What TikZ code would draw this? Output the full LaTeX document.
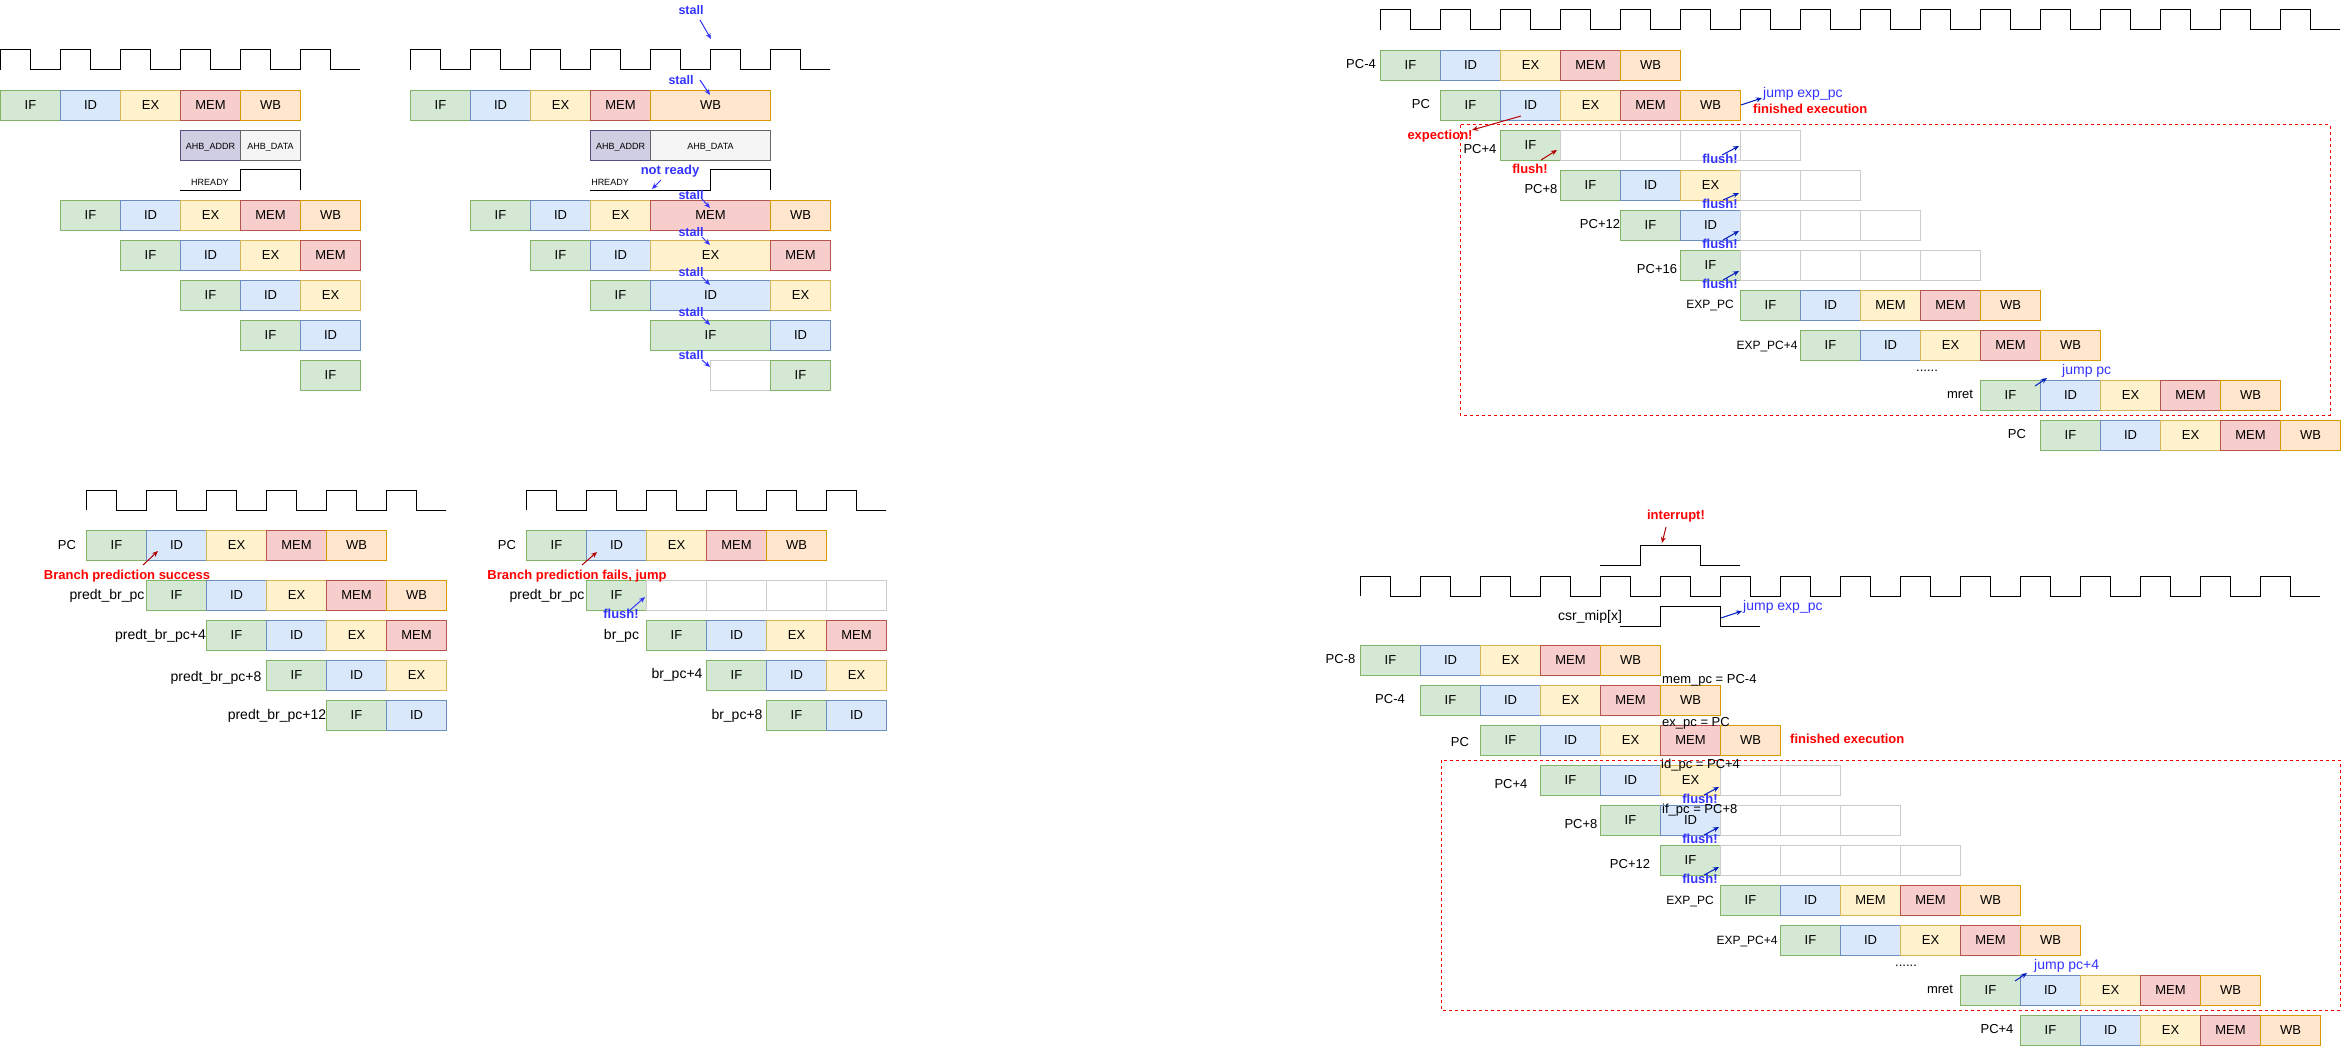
\documentclass[tikz,border=0pt]{standalone}
\usepackage{fontspec}
\setmainfont{Liberation Sans}
\usetikzlibrary{arrows.meta}

\definecolor{ifF}{HTML}{D5E8D4}\definecolor{ifD}{HTML}{82B366}
\definecolor{idF}{HTML}{DAE8FC}\definecolor{idD}{HTML}{6C8EBF}
\definecolor{exF}{HTML}{FFF2CC}\definecolor{exD}{HTML}{D6B656}
\definecolor{meF}{HTML}{F8CECC}\definecolor{meD}{HTML}{B85450}
\definecolor{wbF}{HTML}{FFE6CC}\definecolor{wbD}{HTML}{D79B00}
\definecolor{adF}{HTML}{D0CEE2}\definecolor{adD}{HTML}{56517E}
\definecolor{daF}{HTML}{F5F5F5}\definecolor{daD}{HTML}{666666}
\definecolor{emD}{HTML}{CCCCCC}
\definecolor{noteblue}{HTML}{3333FF}
\definecolor{arrblue}{HTML}{001DBC}
\definecolor{notered}{HTML}{FF0000}
\definecolor{arrred}{HTML}{B20000}

\newcommand\fsz[1]{\fontsize{#1}{#1}\selectfont}
% one pipeline row: name, left x, top y, list of style/text cells
\newcommand\pipe[4]{\foreach \s/\t [count=\i from 0] in {#4}{\node[\s] (#1-\i) at ({#2+60*\i},#3) {\t};}}
% clock: left x, low y, number of periods
\newcommand\clock[3]{\draw[clk] (#1,#2) \foreach \k in {1,...,#3}{ -- ++(0,-20) -- ++(30,0) -- ++(0,20) -- ++(30,0)};}

\begin{document}
\begin{tikzpicture}[x=1pt,y=-1pt,
  stg/.style={draw, line width=1pt, minimum width=60pt, minimum height=30pt, inner sep=0pt,
    anchor=north west, text height=0.716em, text depth=0pt, font=\fsz{13}},
  sIF/.style={stg, fill=ifF, draw=ifD},
  sID/.style={stg, fill=idF, draw=idD},
  sEX/.style={stg, fill=exF, draw=exD},
  sMEM/.style={stg, fill=meF, draw=meD},
  sWB/.style={stg, fill=wbF, draw=wbD},
  sE/.style={stg, fill=white, draw=emD},
  sAD/.style={stg, fill=adF, draw=adD, font=\fsz{9}},
  sDA/.style={stg, fill=daF, draw=daD, font=\fsz{9}},
  clk/.style={draw=black, line width=1pt},
  lbl/.style={inner sep=0pt, text height=0.716em, text depth=0pt, font=\fsz{13}},
  lbig/.style={lbl, font=\fsz{14}},
  lsm/.style={lbl, font=\fsz{12}},
  ltiny/.style={lbl, font=\fsz{9}},
  bnote/.style={lbl, text=noteblue, font=\fsz{13}\bfseries},
  snote/.style={lbl, text=noteblue, font=\fsz{12.5}\bfseries},
  rnote/.style={lbl, text=notered, font=\fsz{13}\bfseries},
  jnote/.style={lbl, text=noteblue, font=\fsz{14}, anchor=west},
  bArr/.style={draw=noteblue, line width=1pt, -{Stealth[length=6pt,width=5pt]}},
  dArr/.style={draw=arrblue, line width=1pt, -{Stealth[length=6pt,width=5pt]}},
  rArr/.style={draw=arrred, line width=1pt, -{Stealth[length=6pt,width=5pt]}},
  zone/.style={draw=notered, line width=1pt, dash pattern=on 3pt off 3pt}
]
\useasboundingbox (0,0) rectangle (2343,1046);

% ---------------- AHB access, ready at once ----------------
\clock{0}{70}{6}
\pipe{a0}{0}{90}{sIF/IF,sID/ID,sEX/EX,sMEM/MEM,sWB/WB}
\node[sAD] (a-addr) at (180,130) {AHB\_ADDR};
\node[sDA] (a-data) at (240,130) {AHB\_DATA};
\node[ltiny] (a-hr) at (210,182) {HREADY};
\draw[clk] (180,190) -- (240,190) -- (240,170) -- (300,170) -- (300,190);
\pipe{a1}{60}{200}{sIF/IF,sID/ID,sEX/EX,sMEM/MEM,sWB/WB}
\pipe{a2}{120}{240}{sIF/IF,sID/ID,sEX/EX,sMEM/MEM}
\pipe{a3}{180}{280}{sIF/IF,sID/ID,sEX/EX}
\pipe{a4}{240}{320}{sIF/IF,sID/ID}
\pipe{a5}{300}{360}{sIF/IF}

% ---------------- AHB access with wait state ----------------
\clock{410}{70}{7}
\node[sIF] (b0-0) at (410,90) {IF};
\node[sID] (b0-1) at (470,90) {ID};
\node[sEX] (b0-2) at (530,90) {EX};
\node[sMEM] (b0-3) at (590,90) {MEM};
\node[sWB, minimum width=120pt] (b0-4) at (650,90) {WB};
\node[sAD] (b-addr) at (590,130) {AHB\_ADDR};
\node[sDA, minimum width=120pt] (b-data) at (650,130) {AHB\_DATA};
\node[ltiny] (b-hr) at (610,182) {HREADY};
\draw[clk] (590,190) -- (710,190) -- (710,170) -- (770,170) -- (770,190);
\node[sIF] (b1-0) at (470,200) {IF};
\node[sID] (b1-1) at (530,200) {ID};
\node[sEX] (b1-2) at (590,200) {EX};
\node[sMEM, minimum width=120pt] (b1-3) at (650,200) {MEM};
\node[sWB] (b1-4) at (770,200) {WB};
\node[sIF] (b2-0) at (530,240) {IF};
\node[sID] (b2-1) at (590,240) {ID};
\node[sEX, minimum width=120pt] (b2-2) at (650,240) {EX};
\node[sMEM] (b2-3) at (770,240) {MEM};
\node[sIF] (b3-0) at (590,280) {IF};
\node[sID, minimum width=120pt] (b3-1) at (650,280) {ID};
\node[sEX] (b3-2) at (770,280) {EX};
\node[sIF, minimum width=120pt] (b4-0) at (650,320) {IF};
\node[sID] (b4-1) at (770,320) {ID};
\node[sE] (b5-0) at (710,360) {};
\node[sIF] (b5-1) at (770,360) {IF};

\node[snote] (st0) at (691,11) {stall};
\node[snote] (st1) at (681,81) {stall};
\node[bnote] (nr) at (670,171) {not ready};
\node[snote] (st2) at (691,196) {stall};
\node[snote] (st3) at (691,233) {stall};
\node[snote] (st4) at (691,273) {stall};
\node[snote] (st5) at (691,313) {stall};
\node[snote] (st6) at (691,356) {stall};
\coordinate (st0s) at (700,20);  \coordinate (st0t) at (711,39);
\coordinate (st1s) at (700,80);  \coordinate (st1t) at (710,95);
\coordinate (nrs) at (661,180);  \coordinate (nrt) at (652,189);
\coordinate (st2s) at (702,199); \coordinate (st2t) at (710,208);
\coordinate (st3s) at (702,237); \coordinate (st3t) at (710,245);
\coordinate (st4s) at (702,277); \coordinate (st4t) at (710,285);
\coordinate (st5s) at (702,317); \coordinate (st5t) at (710,325);
\coordinate (st6s) at (702,360); \coordinate (st6t) at (710,367);
\foreach \n in {st0,st1,nr,st2,st3,st4,st5,st6} \draw[bArr] (\n s) -- (\n t);

% ---------------- branch prediction hit ----------------
\clock{86}{510}{6}
\pipe{c0}{86}{530}{sIF/IF,sID/ID,sEX/EX,sMEM/MEM,sWB/WB}
\pipe{c1}{146}{580}{sIF/IF,sID/ID,sEX/EX,sMEM/MEM,sWB/WB}
\pipe{c2}{206}{620}{sIF/IF,sID/ID,sEX/EX,sMEM/MEM}
\pipe{c3}{266}{660}{sIF/IF,sID/ID,sEX/EX}
\pipe{c4}{326}{700}{sIF/IF,sID/ID}
\node[lbl] (cl0) at (67,546) {PC};
\node[lbig] (cl1) at (107,596) {predt\_br\_pc};
\node[lbig] (cl2) at (160.5,636) {predt\_br\_pc+4};
\node[lbig] (cl3) at (216,678) {predt\_br\_pc+8};
\node[lbig] (cl4) at (277,716) {predt\_br\_pc+12};
\node[rnote] (cok) at (127,576) {Branch prediction success};
\coordinate (coks) at (143,565); \coordinate (cokt) at (158,551);
\draw[rArr] (coks) -- (cokt);

% ---------------- branch prediction miss ----------------
\clock{526}{510}{6}
\pipe{d0}{526}{530}{sIF/IF,sID/ID,sEX/EX,sMEM/MEM,sWB/WB}
\pipe{d1}{586}{580}{sIF/IF,sE/{},sE/{},sE/{},sE/{}}
\pipe{d2}{646}{620}{sIF/IF,sID/ID,sEX/EX,sMEM/MEM}
\pipe{d3}{706}{660}{sIF/IF,sID/ID,sEX/EX}
\pipe{d4}{766}{700}{sIF/IF,sID/ID}
\node[lbl] (dl0) at (507,546) {PC};
\node[lbig] (dl1) at (547,596) {predt\_br\_pc};
\node[lbig] (dl2) at (621.5,636) {br\_pc};
\node[lbig] (dl3) at (677,675) {br\_pc+4};
\node[lbig] (dl4) at (737,716) {br\_pc+8};
\node[rnote] (dno) at (577,576) {Branch prediction fails, jump};
\node[bnote] (dfl) at (621,615) {flush!};
\coordinate (dnos) at (582,565); \coordinate (dnot) at (597,552);
\coordinate (dfls) at (629,611); \coordinate (dflt) at (645,597);
\draw[rArr] (dnos) -- (dnot);
\draw[bArr] (dfls) -- (dflt);

% ---------------- exception ----------------
\clock{1380}{30}{16}
\pipe{e0}{1380}{50}{sIF/IF,sID/ID,sEX/EX,sMEM/MEM,sWB/WB}
\pipe{e1}{1440}{90}{sIF/IF,sID/ID,sEX/EX,sMEM/MEM,sWB/WB}
\draw[zone] (1460,125) rectangle (2330,415);
\pipe{e2}{1500}{130}{sIF/IF,sE/{},sE/{},sE/{},sE/{}}
\pipe{e3}{1560}{170}{sIF/IF,sID/ID,sEX/EX,sE/{},sE/{}}
\pipe{e4}{1620}{210}{sIF/IF,sID/ID,sE/{},sE/{},sE/{}}
\pipe{e5}{1680}{250}{sIF/IF,sE/{},sE/{},sE/{},sE/{}}
\pipe{e6}{1740}{290}{sIF/IF,sID/ID,sEX/MEM,sMEM/MEM,sWB/WB}
\pipe{e7}{1800}{330}{sIF/IF,sID/ID,sEX/EX,sMEM/MEM,sWB/WB}
\pipe{e8}{1980}{380}{sIF/IF,sID/ID,sEX/EX,sMEM/MEM,sWB/WB}
\pipe{e9}{2040}{420}{sIF/IF,sID/ID,sEX/EX,sMEM/MEM,sWB/WB}
\node[lbl] (el0) at (1361,65) {PC-4};
\node[lbl] (el1) at (1421,105) {PC};
\node[lbl] (el2) at (1480,150) {PC+4};
\node[lbl] (el3) at (1541,190) {PC+8};
\node[lbl] (el4) at (1600,225) {PC+12};
\node[lbl] (el5) at (1657,270) {PC+16};
\node[lsm] (el6) at (1710,305) {EXP\_PC};
\node[lsm] (el7) at (1767,346) {EXP\_PC+4};
\node[lbl] (edots) at (1927,368) {......};
\node[lbl] (el8) at (1960,395) {mret};
\node[lbl] (el9) at (2017,435) {PC};
\node[jnote] (ejx) at (1763,94) {jump exp\_pc};
\node[rnote, anchor=west] (efin) at (1753,110) {finished execution};
\node[rnote] (eexc) at (1440,136) {expection!};
\node[rnote] (efr) at (1530,170) {flush!};
\node[bnote] (ef1) at (1720,160) {flush!};
\node[bnote] (ef2) at (1720,205) {flush!};
\node[bnote] (ef3) at (1720,245) {flush!};
\node[bnote] (ef4) at (1720,285) {flush!};
\node[jnote] (ejp) at (2062,371) {jump pc};
\coordinate (eexcs) at (1521,116); \coordinate (eexct) at (1472,130);
\coordinate (efrs) at (1541,160);  \coordinate (efrt) at (1557,150);
\coordinate (ejxs) at (1741,105);  \coordinate (ejxt) at (1762,98);
\coordinate (ef1s) at (1722,155);  \coordinate (ef1t) at (1739,146);
\coordinate (ef2s) at (1723,200);  \coordinate (ef2t) at (1739,193);
\coordinate (ef3s) at (1723,240);  \coordinate (ef3t) at (1739,231);
\coordinate (ef4s) at (1723,280);  \coordinate (ef4t) at (1739,271);
\coordinate (ejps) at (2035,386);  \coordinate (ejpt) at (2047,378);
\draw[rArr] (eexcs) -- (eexct);
\draw[rArr] (efrs) -- (efrt);
\foreach \n in {ejx,ef1,ef2,ef3,ef4,ejp} \draw[dArr] (\n s) -- (\n t);

% ---------------- interrupt ----------------
\node[rnote] (gint) at (1676,516) {interrupt!};
\draw[clk] (1600,565) -- (1640,565) -- (1640,545) -- (1700,545) -- (1700,565) -- (1740,565);
\clock{1360}{596}{16}
\node[lbig] (gcsr) at (1590,617) {csr\_mip[x]};
\draw[clk] (1620,626) -- (1660,626) -- (1660,606) -- (1720,606) -- (1720,626) -- (1760,626);
\node[jnote] (gjx) at (1743,607) {jump exp\_pc};
\pipe{g0}{1360}{645}{sIF/IF,sID/ID,sEX/EX,sMEM/MEM,sWB/WB}
\pipe{g1}{1420}{685}{sIF/IF,sID/ID,sEX/EX,sMEM/MEM,sWB/WB}
\pipe{g2}{1480}{725}{sIF/IF,sID/ID,sEX/EX,sMEM/MEM,sWB/WB}
\draw[zone] (1441,760) rectangle (2340,1010);
\pipe{g3}{1540}{765}{sIF/IF,sID/ID,sEX/EX,sE/{},sE/{}}
\pipe{g4}{1600}{805}{sIF/IF,sID/ID,sE/{},sE/{},sE/{}}
\pipe{g5}{1660}{845}{sIF/IF,sE/{},sE/{},sE/{},sE/{}}
\pipe{g6}{1720}{885}{sIF/IF,sID/ID,sEX/MEM,sMEM/MEM,sWB/WB}
\pipe{g7}{1780}{925}{sIF/IF,sID/ID,sEX/EX,sMEM/MEM,sWB/WB}
\pipe{g8}{1960}{975}{sIF/IF,sID/ID,sEX/EX,sMEM/MEM,sWB/WB}
\pipe{g9}{2020}{1015}{sIF/IF,sID/ID,sEX/EX,sMEM/MEM,sWB/WB}
\node[lbl] (gl0) at (1340.5,660) {PC-8};
\node[lbl] (gl1) at (1390,700) {PC-4};
\node[lbl] (gl2) at (1460,743) {PC};
\node[lbl] (gl3) at (1511,785) {PC+4};
\node[lbl] (gl4) at (1581,825) {PC+8};
\node[lbl] (gl5) at (1630,865) {PC+12};
\node[lsm] (gl6) at (1690,901) {EXP\_PC};
\node[lsm] (gl7) at (1747,941) {EXP\_PC+4};
\node[lbl] (gdots) at (1906,963) {......};
\node[lbl] (gl8) at (1940,990) {mret};
\node[lbl] (gl9) at (1997,1030) {PC+4};
\node[lbl, anchor=west] (gmem) at (1662,680) {mem\_pc = PC-4};
\node[lbl, anchor=west] (gex) at (1662,723) {ex\_pc = PC};
\node[lbl, anchor=west] (gid) at (1661,765) {id\_pc = PC+4};
\node[lbl, anchor=west] (gif) at (1662,810) {if\_pc = PC+8};
\node[rnote, anchor=west] (gfin) at (1790,740) {finished execution};
\node[bnote] (gf1) at (1700,800) {flush!};
\node[bnote] (gf2) at (1700,840) {flush!};
\node[bnote] (gf3) at (1700,880) {flush!};
\node[jnote] (gjp) at (2034,966) {jump pc+4};
\coordinate (gints) at (1666,527); \coordinate (gintt) at (1662,543);
\coordinate (gjxs) at (1721,618);  \coordinate (gjxt) at (1742,611);
\coordinate (gf1s) at (1704,795);  \coordinate (gf1t) at (1719,787);
\coordinate (gf2s) at (1704,835);  \coordinate (gf2t) at (1719,827);
\coordinate (gf3s) at (1704,875);  \coordinate (gf3t) at (1719,867);
\coordinate (gjps) at (2015,981);  \coordinate (gjpt) at (2027,973);
\draw[rArr] (gints) -- (gintt);
\foreach \n in {gjx,gf1,gf2,gf3,gjp} \draw[dArr] (\n s) -- (\n t);
\end{tikzpicture}
\end{document}
